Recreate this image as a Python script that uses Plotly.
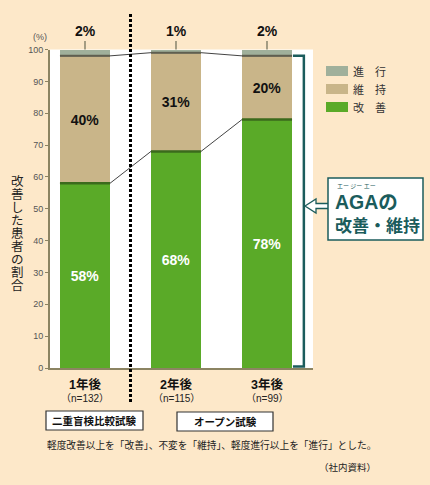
import plotly.graph_objects as go

# data
categories = ["1年後", "2年後", "3年後"]
sample_sizes = ["（n=132）", "（n=115）", "（n=99）"]
improved = [58, 68, 78]      # 改善
maintained = [40, 31, 20]    # 維持
progressed = [2, 1, 2]       # 進行
series_names = ["改　善", "維　持", "進　行"]
series_colors = ["#5aaa28", "#c9b589", "#a0b09b"]
y_ticks = [0, 10, 20, 30, 40, 50, 60, 70, 80, 90, 100]

W, H = 430, 485
BG = "#fde8c9"
TEAL = "#1b5c5c"
AXIS = "#8c8462"
NUM_FONT = "Liberation Sans, Arial, Noto Sans CJK JP"
JP_FONT = "Noto Sans CJK JP, Liberation Sans"
BAR_W = 0.55


def px(x):
    return x / W


def py(y):
    return 1 - y / H


def note(x, y, text, size, color="#222222", family=JP_FONT, xanchor="center"):
    # annotation placed in pixel coordinates of the figure
    return dict(x=px(x), y=py(y), xref="paper", yref="paper", text=text,
                xanchor=xanchor, yanchor="middle", showarrow=False,
                font=dict(size=size, color=color, family=family))


x_pos = list(range(len(categories)))

fig = go.Figure()

fig.add_trace(go.Bar(
    x=x_pos, y=improved, name=series_names[0], width=BAR_W,
    marker=dict(color=series_colors[0], line=dict(width=0)),
    text=[f"<b>{v}%</b>" for v in improved], textposition="inside",
    insidetextanchor="middle", constraintext="none", textangle=0,
    textfont=dict(color="white", size=14, family=NUM_FONT),
    hoverinfo="skip"))
fig.add_trace(go.Bar(
    x=x_pos, y=maintained, name=series_names[1], width=BAR_W,
    marker=dict(color=series_colors[1], line=dict(width=0)),
    text=[f"<b>{v}%</b>" for v in maintained], textposition="inside",
    insidetextanchor="middle", constraintext="none", textangle=0,
    textfont=dict(color="#111111", size=14, family=NUM_FONT),
    hoverinfo="skip"))
fig.add_trace(go.Bar(
    x=x_pos, y=progressed, name=series_names[2], width=BAR_W,
    marker=dict(color=series_colors[2], line=dict(width=0)),
    hoverinfo="skip"))

# connector lines between bars and separators on top of segments
tops_green = improved
tops_tan = [g + m for g, m in zip(improved, maintained)]
for tops, sep_color, sep_w in [(tops_green, "#3b6a1c", 2.5), (tops_tan, "#5f5f50", 2)]:
    cx, cy, sx, sy = [], [], [], []
    for i, t in zip(x_pos, tops):
        cx += [i - BAR_W / 2, i + BAR_W / 2]
        cy += [t, t]
        sx += [i - BAR_W / 2, i + BAR_W / 2, None]
        sy += [t, t, None]
    fig.add_trace(go.Scatter(x=cx, y=cy, mode="lines", showlegend=False,
                             line=dict(color="#444444", width=1), hoverinfo="skip"))
    fig.add_trace(go.Scatter(x=sx, y=sy, mode="lines", showlegend=False,
                             line=dict(color=sep_color, width=sep_w), hoverinfo="skip"))

annotations = []

# labels above the bars for 進行
for i, v in zip(x_pos, progressed):
    annotations.append(dict(
        x=i, y=100, xref="x", yref="y", text=f"<b>{v}%</b>",
        showarrow=True, arrowhead=0, arrowwidth=1.2, arrowcolor="#6b6b55",
        ax=0, ay=-18, font=dict(size=14, color="#111111", family=NUM_FONT)))

# category labels under the axis
for i, c, n in zip(x_pos, categories, sample_sizes):
    annotations.append(dict(x=i, y=py(384), xref="x", yref="paper", text=f"<b>{c}</b>",
                            xanchor="center", yanchor="middle", showarrow=False,
                            font=dict(size=12.5, color="#111111", family=NUM_FONT)))
    annotations.append(dict(x=i, y=py(398), xref="x", yref="paper", text=n,
                            xanchor="center", yanchor="middle", showarrow=False,
                            font=dict(size=10, color="#222222", family=NUM_FONT)))

# vertical y title, one upright character per line
title = "改善した患者の割合"
for k, ch in enumerate(title):
    annotations.append(note(17, 180 + 13.1 * k, ch, 12.5))

annotations.append(note(40, 37, "(%)", 9, "#555555", NUM_FONT))

# manual legend
shapes = []
legend_order = [2, 1, 0]
for row, s in enumerate(legend_order):
    yc = 71 + 18 * row
    shapes.append(dict(type="rect", xref="paper", yref="paper",
                       x0=px(326), x1=px(348), y0=py(yc - 5), y1=py(yc + 5),
                       fillcolor=series_colors[s], line=dict(width=0)))
    annotations.append(note(351, yc, series_names[s], 11, "#333333", xanchor="left"))

# dotted separator between double-blind and open trial
shapes.append(dict(type="line", xref="x", yref="paper", x0=0.5, x1=0.5,
                   y0=py(402), y1=py(14), layer="above",
                   line=dict(color="black", width=3, dash="3px,2px")))

# bracket around 改善+維持 of last bar
last = x_pos[-1]
bx0 = last + BAR_W / 2 + 0.01
bx1 = last + BAR_W / 2 + 0.13
shapes.append(dict(type="path", xref="x", yref="y", layer="above",
                   path=f"M {bx0},{tops_tan[-1]} L {bx1},{tops_tan[-1]} L {bx1},0.5 L {bx0},0.5",
                   line=dict(color=TEAL, width=2.5)))

# hollow arrow and callout box
arrow = [(305, 206), (316, 199), (316, 203.5), (329, 203.5), (329, 208.5), (316, 208.5), (316, 213)]
path = "M " + " L ".join(f"{px(a)},{py(b)}" for a, b in arrow) + " Z"
shapes.append(dict(type="path", xref="paper", yref="paper", path=path,
                   fillcolor="white", line=dict(color=TEAL, width=1.3), layer="above"))
shapes.append(dict(type="rect", xref="paper", yref="paper",
                   x0=px(328), x1=px(423), y0=py(240), y1=py(178),
                   fillcolor="white", line=dict(color=TEAL, width=1.5)))
annotations.append(note(335, 186, "エー ジー エー", 6, TEAL, xanchor="left"))
annotations.append(note(333, 202, "<b>AGAの</b>", 19.5, TEAL, NUM_FONT, xanchor="left"))
annotations.append(note(333, 224, "<b>改善・維持</b>", 17, TEAL, xanchor="left"))

# trial type boxes
for label, x0, x1, y0, y1 in [("二重盲検比較試験", 46, 143, 411, 430),
                              ("オープン試験", 177, 273, 412, 431)]:
    shapes.append(dict(type="rect", xref="paper", yref="paper",
                       x0=px(x0), x1=px(x1), y0=py(y1), y1=py(y0),
                       fillcolor="white", line=dict(color="#333333", width=1.2)))
    annotations.append(note((x0 + x1) / 2, (y0 + y1) / 2, f"<b>{label}</b>", 10.5, "#111111"))

annotations.append(note(45, 445, "軽度改善以上を「改善」、不変を「維持」、軽度進行以上を「進行」とした。",
                        9.7, xanchor="left"))
annotations.append(note(378, 467, "（社内資料）", 9.5, xanchor="right"))

fig.update_layout(
    width=W, height=H, margin=dict(l=0, r=0, t=0, b=0, autoexpand=False),
    paper_bgcolor=BG, plot_bgcolor="white",
    barmode="stack", bargap=0, showlegend=False,
    xaxis=dict(domain=[px(50), px(313)], range=[(50 - 85) / 91, (313 - 85) / 91],
               showgrid=False, zeroline=False, showticklabels=False, ticks="",
               automargin=False,
               showline=True, linecolor=AXIS, linewidth=1.5, fixedrange=True),
    yaxis=dict(domain=[py(368), py(49.5)], range=[0, 100], tickvals=y_ticks,
               showgrid=False, zeroline=False, ticks="outside", ticklen=3,
               automargin=False,
               tickcolor=AXIS, tickwidth=1, showline=True, linecolor=AXIS, linewidth=2,
               tickfont=dict(size=9, color="#555555", family=NUM_FONT), fixedrange=True),
    annotations=annotations, shapes=shapes,
)

# drop the default page margin so the figure sits at the window's corner
fig.write_html("out.html", config={"displayModeBar": False},
               post_script="document.body.style.margin='0';")
